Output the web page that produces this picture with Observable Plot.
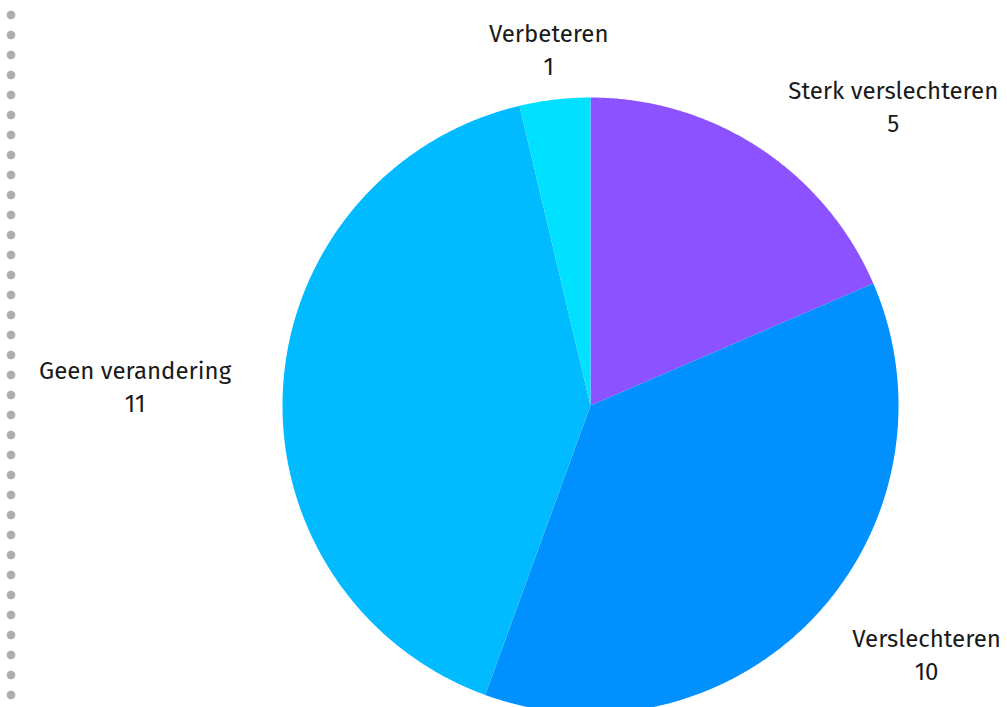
<!DOCTYPE html>
<html><head><meta charset="utf-8">
<script src="https://cdn.jsdelivr.net/npm/d3@7"></script>
<script src="https://cdn.jsdelivr.net/npm/@observablehq/plot@0.6"></script>
<style>
html,body{margin:0;padding:0;background:#fff;}
#chart{position:relative;width:1007px;height:707px;overflow:hidden;
 background-image: radial-gradient(circle at 11px 10px, #adadad 3.8px, rgba(173,173,173,0) 4.8px);
 background-size: 22px 20px; background-position: 0 5px; background-repeat: repeat-y;}
#chart svg{position:absolute;left:0;top:0;background:transparent;}
</style></head><body><div id="chart"></div>
<script>
const categories = ["Sterk verslechteren", "Verslechteren", "Geen verandering", "Verbeteren"];
const values = [5, 10, 11, 1];
const colors = ["#8c52ff", "#0091ff", "#00bbff", "#00e1ff"];

const W = 1007, H = 707, cx = 590, cy = 405, r = 308, rLabel = 360;
const fontFamily = "'Fira Sans', 'Noto Sans', sans-serif";
const fontSize = 24;

const data = categories.map((c, i) => ({category: c, value: values[i]}));
const arcs = d3.pie().sort(null).value(d => d.value)(data);
const pt = (a, rad) => [cx + rad * Math.sin(a), cy - rad * Math.cos(a)];

const slices = arcs.map(a => {
  const n = Math.max(2, Math.ceil((a.endAngle - a.startAngle) / 0.005));
  const ring = [[cx, cy]];
  for (let i = 0; i <= n; i++) ring.push(pt(a.startAngle + (a.endAngle - a.startAngle) * i / n, r));
  ring.push([cx, cy]);
  return {type: "Feature", properties: {category: a.data.category},
          geometry: {type: "Polygon", coordinates: [ring]}};
});

const ctx = document.createElement("canvas").getContext("2d");
ctx.font = `${fontSize}px ${fontFamily}`;
const labels = arcs.map(a => {
  const mid = (a.startAngle + a.endAngle) / 2;
  const [lx, ly] = pt(mid, rLabel);
  const s = Math.sin(mid);
  const name = a.data.category, val = String(a.data.value);
  const w = Math.max(ctx.measureText(name).width, ctx.measureText(val).width);
  const x = s > 0.2 ? lx + w / 2 : s < -0.2 ? lx - w / 2 : lx;
  return {x, y: ly, text: name + "\n" + val};
});

const chart = Plot.plot({
  width: W, height: H, margin: 0,
  projection: {type: "identity"},
  style: {background: "transparent", fontFamily},
  color: {domain: categories, range: colors},
  marks: [
    Plot.geo(slices, {fill: d => d.properties.category}),
    Plot.text(labels, {x: "x", y: "y", text: "text", textAnchor: "middle", lineAnchor: "middle",
      lineHeight: 1.375, fontSize, fill: "#1a1a1a"})
  ]
});
document.getElementById("chart").appendChild(chart);
</script></body></html>
